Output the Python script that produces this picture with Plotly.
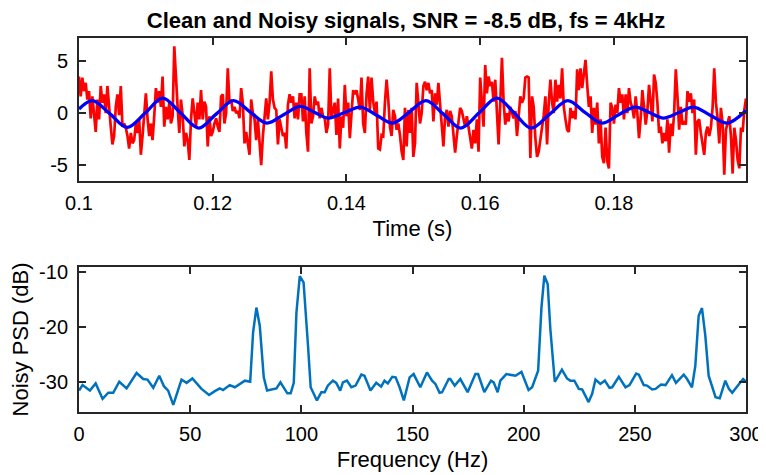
import plotly.graph_objects as go
from plotly.subplots import make_subplots

fs = 4000
t_start = 0.1

# noisy signal in three chunks (one value per sample)
noisy_a = [3.5, 1.6, 3.4, 2.1, 2.9, 1.3, 2.1, -0.5, 1.6, -0.2,
           -1.8, 1.3, -0.6, 2.6, 1.0, 1.8, 0.0, 2.6, 1.0, -1.3,
           -3.0, -2.2, 0.6, 1.8, -0.2, 2.6, -1.3, -1.0, -1.4, -2.2,
           -3.4, -1.9, -2.9, -2.6, -1.0, -1.9, -0.6, -4.0, -2.2, 0.3,
           1.9, -0.5, -2.2, -1.0, -2.6, -0.3, 2.4, 1.0, 2.1, 0.6,
           3.5, -1.3, 0.6, -0.6, 1.0, -1.0, -0.3, 6.4, 2.9, 0.6,
           -1.9, 1.3, -0.2, -3.2, -1.9, -2.6, -4.5, -0.6, 1.4, 0.0,
           -1.3, 1.0, -0.6, 2.2, -0.6, 1.1, 0.6, -3.2, -0.3, -2.2,
           -1.8, -1.0, -0.5, -1.3, -1.8, 1.6, 1.8, -1.0, 0.0, 4.3,
           1.0, 1.3, 0.2, 0.6, 0.0, 0.2, -0.5, 2.4, 1.0, -2.9,
           -1.8, -2.9, -4.0, 1.3, 0.0, -0.6, -2.6, -0.6, -3.2, -5.0,
           -2.2, 0.0, 1.4, -0.6, 1.0, 4.0, 1.3, 0.5, 0.3, -3.0,
           -0.6, -1.4, -2.2, -1.9, -3.4, 0.8, 1.8, 1.0, 1.6, -0.5,
           1.0, -0.6, 1.8]
noisy_b = [1.8, -0.8, 1.6, -1.9, -3.7, 4.3, -1.0, -0.3, 1.6, 0.8,
           1.1, -0.5, 0.5, -0.3, -0.5, -1.9, -1.1, 4.3, -0.5, 0.3,
           1.0, -2.1, 1.4, -3.4, -0.3, -1.4, 2.7, -0.3, 1.0, -2.4,
           -0.3, 2.2, 1.8, 2.2, 1.3, 0.3, 3.4, -1.0, -1.9, 1.8,
           3.5, 0.3, 3.4, 1.1, 0.0, 1.1, -3.4, -3.5, -2.1, -2.2,
           1.0, 3.2, 1.3, -1.3, -2.2, 0.3, -0.3, -1.6, -1.0, -2.1,
           -3.7, -4.5, 0.5, -3.2, 0.3, -1.9, 0.5, -4.2, -2.9, 2.9,
           1.0, -1.0, 0.0, 2.6, 3.0, 2.2, 2.9, 1.9, 2.2, -0.8,
           1.9, 0.8, 2.9, 1.0, -0.6, -3.2, -0.3, 0.3, -1.3, 0.2,
           -0.3, -1.9, -3.8, -2.2, -1.0, 0.5, 0.2, -0.5, -1.3, -0.3,
           -1.3, -2.4, -3.4, -1.6, -2.9, -0.6, -3.7, 3.4, 0.8, -1.3,
           4.6, 1.9, 3.5, 2.6, 3.0, 1.1, 3.2, 0.3, -3.0, 1.0,
           5.3, 1.1, -1.1, 0.0, -0.8, 0.6, 0.0, -0.5, 0.2, -2.2,
           -0.3, 1.6, 1.0, 1.4]
noisy_c = [3.4, 3.5, 3.4, -4.3, 1.6, 0.6, -2.4, -4.2, -3.7, -2.6,
           -1.6, -0.2, 1.6, -3.0, 1.0, 3.2, 1.0, 0.0, 3.2, 1.1,
           2.7, 1.4, 4.3, 0.6, -0.6, -1.6, -1.8, 0.5, -0.5, 0.2,
           -0.6, 4.2, 2.2, 4.3, 2.4, 4.0, 5.1, 2.7, 0.6, 1.6,
           -1.9, 0.5, -1.1, 1.0, -2.9, -0.6, -4.2, -4.8, -1.4, -4.6,
           -5.3, 1.0, 0.5, -1.0, 0.8, 0.0, 2.4, 1.0, 1.8, -0.6,
           1.8, 0.0, 2.4, 1.0, 0.5, -0.5, 1.6, 0.0, -2.4, -0.5,
           2.2, 0.6, -1.1, 0.2, 2.7, 1.1, -0.8, 3.7, 2.9, 1.0,
           -1.9, -1.3, -2.9, -1.9, -2.7, -0.6, -3.8, -1.0, -2.2, 0.0,
           4.2, 1.6, -1.6, 0.6, -1.1, -0.8, -1.1, 2.1, 1.1, 1.9,
           0.0, 1.3, -4.0, -0.8, -0.6, -1.9, -2.9, -4.0, -1.9, -1.3,
           -2.2, -1.4, 0.5, 4.3, 1.0, -0.5, -2.9, 0.5, -1.0, -5.9,
           -1.6, -0.8, -0.3, -2.2, -5.8, -1.4, -2.6, -4.5, -5.3, -1.4,
           -1.8, 0.3, 1.4]
noisy = noisy_a + noisy_b + noisy_c
t_noisy = [t_start + n / fs for n in range(len(noisy))]

# clean signal: extrema and crossings
t_clean = [0.1000, 0.1020, 0.1046, 0.1072, 0.1099, 0.1125, 0.1152, 0.1179,
           0.1205, 0.1231, 0.1256, 0.1281, 0.1306, 0.1331, 0.1352, 0.1373,
           0.1397, 0.1421, 0.1445, 0.1469, 0.1494, 0.1519, 0.1545, 0.1571,
           0.1598, 0.1625, 0.1651, 0.1676, 0.1704, 0.1731, 0.1756, 0.1782,
           0.1807, 0.1832, 0.1853, 0.1874, 0.1897, 0.1919, 0.1944, 0.1969,
           0.19975]
clean = [0.38, 1.19, -0.05, -1.38, 0.0, 1.44, 0.0, -1.44,
         -0.1, 1.19, 0.1, -0.96, -0.15, 0.64, 0.08, -0.48,
         0.05, 0.58, -0.2, -0.96, 0.1, 1.19, -0.1, -1.44,
         0.0, 1.44, 0.0, -1.44, -0.1, 1.19, 0.1, -0.96,
         -0.15, 0.58, 0.05, -0.48, 0.05, 0.58, -0.2, -0.96,
         0.26]

# PSD of the noisy signal
freq = [0, 1.6, 4.9, 7.5, 10.6, 13.2, 15.4, 18.1, 21.4, 25.9,
        28.9, 30.8, 33.4, 36.1, 38.2, 40.1, 42.4, 46.1, 48.4, 51.0,
        55.1, 58.5, 61.1, 63.3, 64.8, 67.8, 70.1, 72.3, 74.6, 77.0,
        78.3, 79.8, 81.3, 83.1, 84.6, 88.8, 90.6, 93.7, 95.2, 96.6,
        97.8, 99.3, 101.0, 103.0, 104.2, 107.0, 109.0, 110.5, 111.9, 114.2,
        115.7, 117.5, 118.7, 120.5, 122.5, 124.4, 127.0, 128.4, 131.1, 133.7,
        135.9, 137.4, 138.9, 140.9, 142.4, 144.2, 146.1, 148.7, 150.5, 153.5,
        156.5, 158.8, 160.3, 162.2, 163.3, 166.3, 167.0, 169.0, 171.5, 174.8,
        178.3, 179.5, 182.3, 185.3, 186.5, 188.3, 189.5, 192.2, 194.0, 196.3,
        199.0, 202.2, 203.8, 206.5, 208.0, 209.3, 210.8, 212.0, 214.0, 217.2,
        219.5, 221.0, 222.8, 224.8, 226.3, 229.2, 230.8, 232.3, 234.5, 236.5,
        238.6, 239.8, 242.8, 245.8, 247.6, 250.6, 251.8, 254.0, 255.5, 257.8,
        259.3, 261.8, 263.8, 266.7, 268.5, 272.0, 273.5, 275.7, 277.2, 278.7,
        280.2, 281.7, 283.2, 284.8, 286.3, 288.2, 290.7, 292.3, 293.8, 297.5,
        298.7, 300.0]
psd_db = [-31.5, -30.5, -31.5, -30.2, -33.0, -31.9, -31.9, -29.9, -31.1, -28.3,
          -29.4, -29.5, -31.0, -28.8, -30.7, -31.5, -34.1, -29.5, -30.1, -29.3,
          -31.2, -32.3, -31.6, -31.1, -31.4, -30.5, -30.9, -30.3, -29.7, -29.9,
          -20.9, -16.4, -19.7, -29.1, -31.5, -31.1, -30.0, -32.0, -32.0, -30.1,
          -17.3, -10.7, -11.8, -23.3, -30.9, -33.3, -31.8, -31.8, -30.6, -29.7,
          -30.1, -31.5, -30.0, -29.7, -30.9, -30.6, -28.6, -28.8, -31.5, -30.1,
          -30.8, -29.7, -30.2, -29.0, -29.1, -30.9, -33.3, -29.1, -28.5, -30.9,
          -28.2, -29.7, -30.3, -31.9, -31.8, -29.4, -29.4, -30.6, -29.4, -31.8,
          -28.5, -28.5, -31.8, -29.7, -30.0, -31.8, -29.7, -28.5, -28.6, -28.8,
          -28.1, -31.4, -30.9, -27.9, -16.4, -10.6, -12.1, -20.3, -29.9, -27.7,
          -29.3, -29.7, -29.7, -31.2, -31.3, -33.6, -32.1, -29.5, -30.3, -29.7,
          -31.0, -30.9, -29.0, -30.9, -30.5, -28.4, -28.6, -30.5, -30.6, -31.3,
          -31.2, -30.4, -30.5, -28.7, -30.1, -28.6, -29.4, -30.9, -27.0, -17.9,
          -16.5, -21.5, -28.8, -30.9, -32.7, -32.9, -29.7, -31.2, -31.9, -30.0,
          -29.4, -29.9]

time_ticks = [0.1, 0.12, 0.14, 0.16, 0.18]
time_labels = ["0.1", "0.12", "0.14", "0.16", "0.18"]
sig_ticks = [-5, 0, 5]
sig_labels = ["-5", "0", "5"]
freq_ticks = [0, 50, 100, 150, 200, 250, 300]
psd_ticks = [-30, -20, -10]
psd_labels = ["-30", "-20", "-10"]

font_family = "Arial, Liberation Sans, sans-serif"
frame = "#262626"
label_font = dict(family=font_family, size=22, color="black")

fig = make_subplots(rows=2, cols=1)

fig.add_trace(go.Scatter(x=t_noisy, y=noisy, mode="lines",
                         line=dict(color="#FF0000", width=2.7)), row=1, col=1)
fig.add_trace(go.Scatter(x=t_clean, y=clean, mode="lines",
                         line=dict(color="#0000FF", width=3.3, shape="spline")),
              row=1, col=1)
fig.add_trace(go.Scatter(x=freq, y=psd_db, mode="lines",
                         line=dict(color="#0072BD", width=2.5)), row=2, col=1)

axis_style = dict(showline=True, linecolor=frame, linewidth=2, mirror="ticks",
                  ticks="inside", ticklen=7, tickwidth=2, tickcolor=frame,
                  showgrid=False, zeroline=False, automargin=False,
                  tickfont=dict(family=font_family, size=20, color="black"))

fig.update_xaxes(ticklabelstandoff=3, **axis_style)
fig.update_yaxes(ticklabelstandoff=5, **axis_style)

# the page body adds an 8px offset, so the figure is 8px smaller each way
fig.update_layout(
    width=758, height=467,
    margin=dict(l=71, r=20, t=29.5, b=62.7),
    paper_bgcolor="white", plot_bgcolor="white",
    showlegend=False,
    title=dict(text="<b>Clean and Noisy signals, SNR = -8.5 dB, fs = 4kHz</b>",
               x=0.525, xanchor="center", y=0.974, yanchor="middle",
               font=dict(family=font_family, size=22, color="black")),
    xaxis=dict(domain=[0, 1], range=[0.1, 0.19975],
               tickvals=time_ticks, ticktext=time_labels,
               title=dict(text="Time (s)", standoff=8, font=label_font)),
    yaxis=dict(domain=[0.618, 1.0], range=[-6.5, 7.2],
               tickvals=sig_ticks, ticktext=sig_labels),
    xaxis2=dict(domain=[0, 1], range=[0, 300], tickvals=freq_ticks,
                title=dict(text="Frequency (Hz)", standoff=8, font=label_font)),
    yaxis2=dict(domain=[0, 0.388], range=[-35.4, -9.0],
                tickvals=psd_ticks, ticktext=psd_labels,
                title=dict(text="Noisy PSD (dB)", standoff=6, font=label_font)),
)

fig.write_html("out.html")
